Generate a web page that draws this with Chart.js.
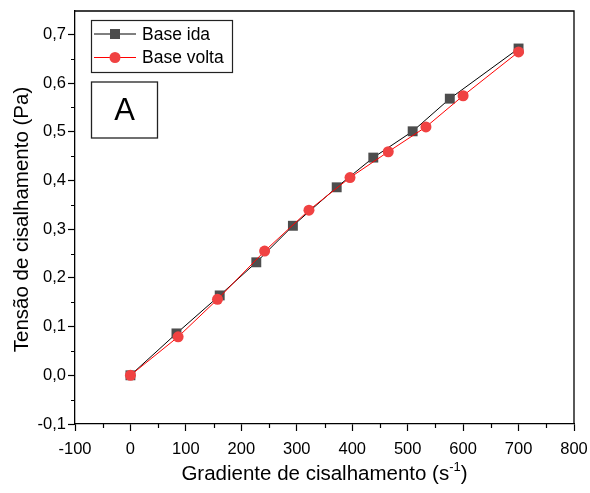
<!DOCTYPE html>
<html>
<head>
<meta charset="utf-8">
<script src="https://cdn.jsdelivr.net/npm/chart.js@4"></script>
<style>
  html, body { margin: 0; padding: 0; background: #fff; }
  #wrap { width: 590px; height: 493px; }
</style>
</head>
<body>
<div id="wrap"><canvas id="chart" width="590" height="493"></canvas></div>
<script>
// values
const shearIda = [0, 83, 161, 227, 293, 372, 438, 509, 576, 700];
const stressIda = [0, 0.086, 0.164, 0.232, 0.307, 0.386, 0.447, 0.501, 0.568, 0.671];
const shearVolta = [0, 86, 157, 242, 322, 396, 465, 533, 600, 700];
const stressVolta = [0, 0.079, 0.156, 0.255, 0.339, 0.406, 0.459, 0.510, 0.574, 0.664];

const xTicks = [-100, 0, 100, 200, 300, 400, 500, 600, 700, 800];
const yTicks = [-0.1, 0, 0.1, 0.2, 0.3, 0.4, 0.5, 0.6, 0.7];
const xMinor = [-50, 50, 150, 250, 350, 450, 550, 650, 750];
const yMinor = [-0.05, 0.05, 0.15, 0.25, 0.35, 0.45, 0.55, 0.65];

const labelIda = "Base ida";
const labelVolta = "Base volta";
const panelLetter = "A";
const xTitle = "Gradiente de cisalhamento (s";
const xTitleSup = "-1";
const yTitle = "Tensão de cisalhamento (Pa)";

const FONT = "'Liberation Sans', Arial, sans-serif";
const idaColor = "#4d4d4d";
const voltaColor = "#f04242";

const toPoints = (xs, ys) => xs.map((x, i) => ({ x: x, y: ys[i] }));

const ctx = document.getElementById("chart").getContext("2d");

const extras = {
  id: "extras",
  afterDraw(chart) {
    const c = chart.ctx;
    const a = chart.chartArea;
    const xs = chart.scales.x;
    const ys = chart.scales.y;
    c.save();

    // frame (top + right)
    c.strokeStyle = "#000";
    c.lineWidth = 1.3;
    c.beginPath();
    c.moveTo(a.left, a.top);
    c.lineTo(a.right, a.top);
    c.lineTo(a.right, a.bottom);
    c.stroke();

    // minor ticks
    c.lineWidth = 1.2;
    c.beginPath();
    xMinor.forEach(v => {
      const px = Math.round(xs.getPixelForValue(v)) + 0.5;
      c.moveTo(px, a.bottom);
      c.lineTo(px, a.bottom + 4);
    });
    yMinor.forEach(v => {
      const py = Math.round(ys.getPixelForValue(v)) + 0.5;
      c.moveTo(a.left, py);
      c.lineTo(a.left - 4, py);
    });
    c.stroke();

    // legend box
    c.lineWidth = 1.2;
    c.strokeStyle = "#222";
    c.strokeRect(91.5, 20.5, 141, 52);
    const rows = [
      { label: labelIda, line: "#000", fill: idaColor, shape: "rect", y: 34 },
      { label: labelVolta, line: "#ff0000", fill: voltaColor, shape: "circle", y: 57.5 }
    ];
    rows.forEach(r => {
      c.strokeStyle = r.line;
      c.lineWidth = 1;
      c.beginPath();
      c.moveTo(94, r.y);
      c.lineTo(136, r.y);
      c.stroke();
      c.fillStyle = r.fill;
      if (r.shape === "rect") {
        c.fillRect(110, r.y - 5, 10, 10);
      } else {
        c.beginPath();
        c.arc(115, r.y, 5.5, 0, Math.PI * 2);
        c.fill();
      }
      c.fillStyle = "#000";
      c.font = "17.5px " + FONT;
      c.textAlign = "left";
      c.textBaseline = "middle";
      c.fillText(r.label, 142, r.y + 1);
    });

    // panel letter box
    c.strokeStyle = "#222";
    c.lineWidth = 1.3;
    c.strokeRect(91.5, 82, 66, 56);
    c.fillStyle = "#000";
    c.font = "31px " + FONT;
    c.textAlign = "center";
    c.textBaseline = "middle";
    c.fillText(panelLetter, 124.5, 111);

    // x title with superscript
    c.font = "20.5px " + FONT;
    const w1 = c.measureText(xTitle).width;
    c.font = "13px " + FONT;
    const w2 = c.measureText(xTitleSup).width;
    c.font = "20.5px " + FONT;
    const w3 = c.measureText(")").width;
    let x0 = (a.left + a.right) / 2 - (w1 + w2 + w3) / 2;
    const yb = 480;
    c.textAlign = "left";
    c.textBaseline = "alphabetic";
    c.fillText(xTitle, x0, yb);
    c.font = "13px " + FONT;
    c.fillText(xTitleSup, x0 + w1, yb - 9);
    c.font = "20.5px " + FONT;
    c.fillText(")", x0 + w1 + w2, yb);

    // y title
    c.translate(22, (a.top + a.bottom) / 2 + 2);
    c.rotate(-Math.PI / 2);
    c.textAlign = "center";
    c.textBaseline = "middle";
    c.fillText(yTitle, 0, 0);

    c.restore();
  }
};

new Chart(ctx, {
  type: "scatter",
  data: {
    datasets: [
      {
        label: labelIda,
        data: toPoints(shearIda, stressIda),
        showLine: true,
        borderColor: "#000",
        borderWidth: 1,
        backgroundColor: idaColor,
        pointBackgroundColor: idaColor,
        pointBorderColor: idaColor,
        pointBorderWidth: 0,
        pointStyle: "rect",
        pointRadius: 7,
        order: 2
      },
      {
        label: labelVolta,
        data: toPoints(shearVolta, stressVolta),
        showLine: true,
        borderColor: "#ff0000",
        borderWidth: 1,
        backgroundColor: voltaColor,
        pointBackgroundColor: voltaColor,
        pointBorderColor: voltaColor,
        pointBorderWidth: 0,
        pointStyle: "circle",
        pointRadius: 5.5,
        order: 1
      }
    ]
  },
  options: {
    responsive: false,
    animation: false,
    layout: { padding: { top: 11, right: 16, left: 0, bottom: 0 } },
    plugins: {
      legend: { display: false },
      tooltip: { enabled: false }
    },
    scales: {
      x: {
        type: "linear",
        min: -100,
        max: 800,
        afterFit: s => { s.height = 69; s.paddingLeft = 0; s.paddingRight = 0; },
        afterBuildTicks: s => { s.ticks = xTicks.map(v => ({ value: v })); },
        border: { display: true, color: "#000", width: 1.3 },
        grid: { drawOnChartArea: false, drawTicks: true, tickLength: 7, tickColor: "#000", tickWidth: 1.2 },
        ticks: {
          color: "#000",
          padding: 9,
          maxRotation: 0,
          font: { family: FONT, size: 16.5 },
          callback: v => String(v)
        }
      },
      y: {
        type: "linear",
        min: -0.1,
        max: 0.748,
        afterFit: s => { s.width = 75; s.paddingTop = 0; s.paddingBottom = 0; },
        afterBuildTicks: s => { s.ticks = yTicks.map(v => ({ value: v })); },
        border: { display: true, color: "#000", width: 1.3 },
        grid: { drawOnChartArea: false, drawTicks: true, tickLength: 7, tickColor: "#000", tickWidth: 1.2 },
        ticks: {
          color: "#000",
          padding: 2,
          font: { family: FONT, size: 16.5 },
          callback: v => Number(v).toFixed(1).replace(".", ",")
        }
      }
    }
  },
  plugins: [extras]
});
</script>
</body>
</html>
